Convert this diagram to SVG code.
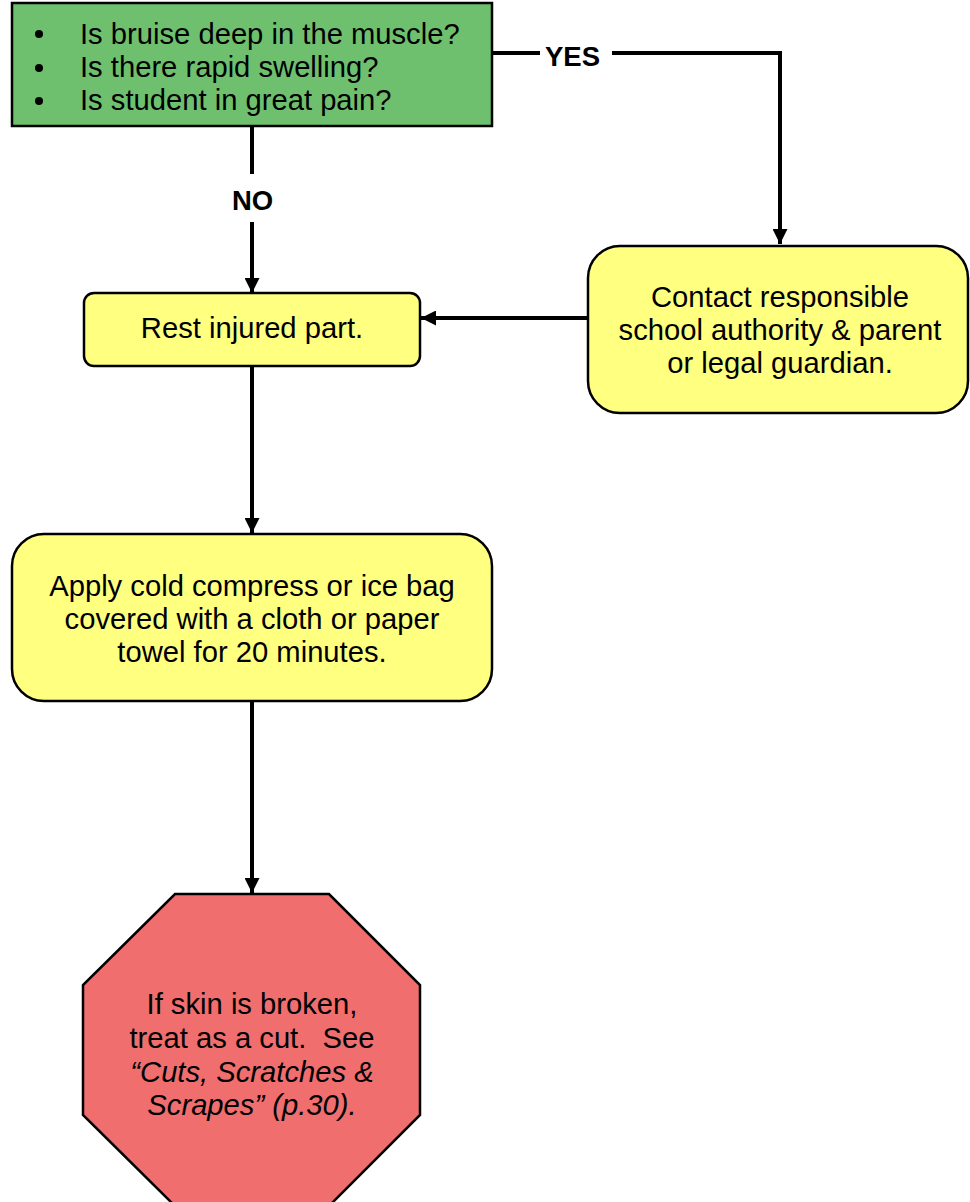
<svg xmlns="http://www.w3.org/2000/svg" width="970" height="1202" viewBox="0 0 970 1202">
<style>
  .t { font-family: "Liberation Sans", Arial, sans-serif; font-size: 29.2px; fill: #000; }
  .c { text-anchor: middle; }
  .lbl { font-family: "Liberation Sans", Arial, sans-serif; font-size: 27.5px; font-weight: bold; fill: #000; }
  .box { stroke: #000; stroke-width: 2.5; }
  .conn { fill: none; stroke: #000; stroke-width: 4; }
</style>
<defs>
  <marker id="arr" viewBox="0 0 15 15" refX="15" refY="7.5" markerWidth="15" markerHeight="15" markerUnits="userSpaceOnUse" orient="auto">
    <path d="M0,0 L15,7.5 L0,15 Z" fill="#000"/>
  </marker>
</defs>
<rect width="970" height="1202" fill="#fff"/>

<g id="connectors">
  <polyline class="conn" points="492,53 540,53"/>
  <polyline class="conn" points="612,53 780,53 780,244" marker-end="url(#arr)"/>
  <line class="conn" x1="252" y1="126" x2="252" y2="174"/>
  <line class="conn" x1="252" y1="222" x2="252" y2="293" marker-end="url(#arr)"/>
  <line class="conn" x1="588" y1="318" x2="421" y2="318" marker-end="url(#arr)"/>
  <line class="conn" x1="252" y1="366" x2="252" y2="533" marker-end="url(#arr)"/>
  <line class="conn" x1="252" y1="701" x2="252" y2="893" marker-end="url(#arr)"/>
  <text class="lbl" x="545" y="66">YES</text>
  <text class="lbl" x="232" y="210">NO</text>
</g>

<g id="question">
  <rect class="box" x="12" y="3" width="480" height="123" fill="#6EC06E"/>
  <circle cx="39" cy="34" r="4" fill="#000"/>
  <circle cx="39" cy="68" r="4" fill="#000"/>
  <circle cx="39" cy="101" r="4" fill="#000"/>
  <text class="t" x="80" y="44">Is bruise deep in the muscle?</text>
  <text class="t" x="80" y="77">Is there rapid swelling?</text>
  <text class="t" x="80" y="110">Is student in great pain?</text>
</g>

<g id="contact">
  <rect class="box" x="588" y="246" width="380" height="167" rx="32" fill="#FFFF80"/>
  <text class="t c" x="780" y="307">Contact responsible</text>
  <text class="t c" x="780" y="340">school authority &amp; parent</text>
  <text class="t c" x="780" y="373">or legal guardian.</text>
</g>

<g id="rest">
  <rect class="box" x="84" y="293" width="336" height="73" rx="10" fill="#FFFF80"/>
  <text class="t c" x="252" y="338">Rest injured part.</text>
</g>

<g id="apply">
  <rect class="box" x="12" y="534" width="480" height="167" rx="32" fill="#FFFF80"/>
  <text class="t c" x="252" y="596">Apply cold compress or ice bag</text>
  <text class="t c" x="252" y="629">covered with a cloth or paper</text>
  <text class="t c" x="252" y="662">towel for 20 minutes.</text>
</g>

<g id="stop">
  <polygon class="box" points="175,894 329,894 420,985 420,1115 329,1206 175,1206 83,1115 83,985" fill="#F06E6E"/>
  <text class="t c" x="252" y="1014">If skin is broken,</text>
  <text class="t c" x="252" y="1048" xml:space="preserve">treat as a cut.  See</text>
  <text class="t c" x="252" y="1082" font-style="italic">“Cuts, Scratches &amp;</text>
  <text class="t c" x="252" y="1115" font-style="italic">Scrapes” (p.30).</text>
</g>
</svg>
